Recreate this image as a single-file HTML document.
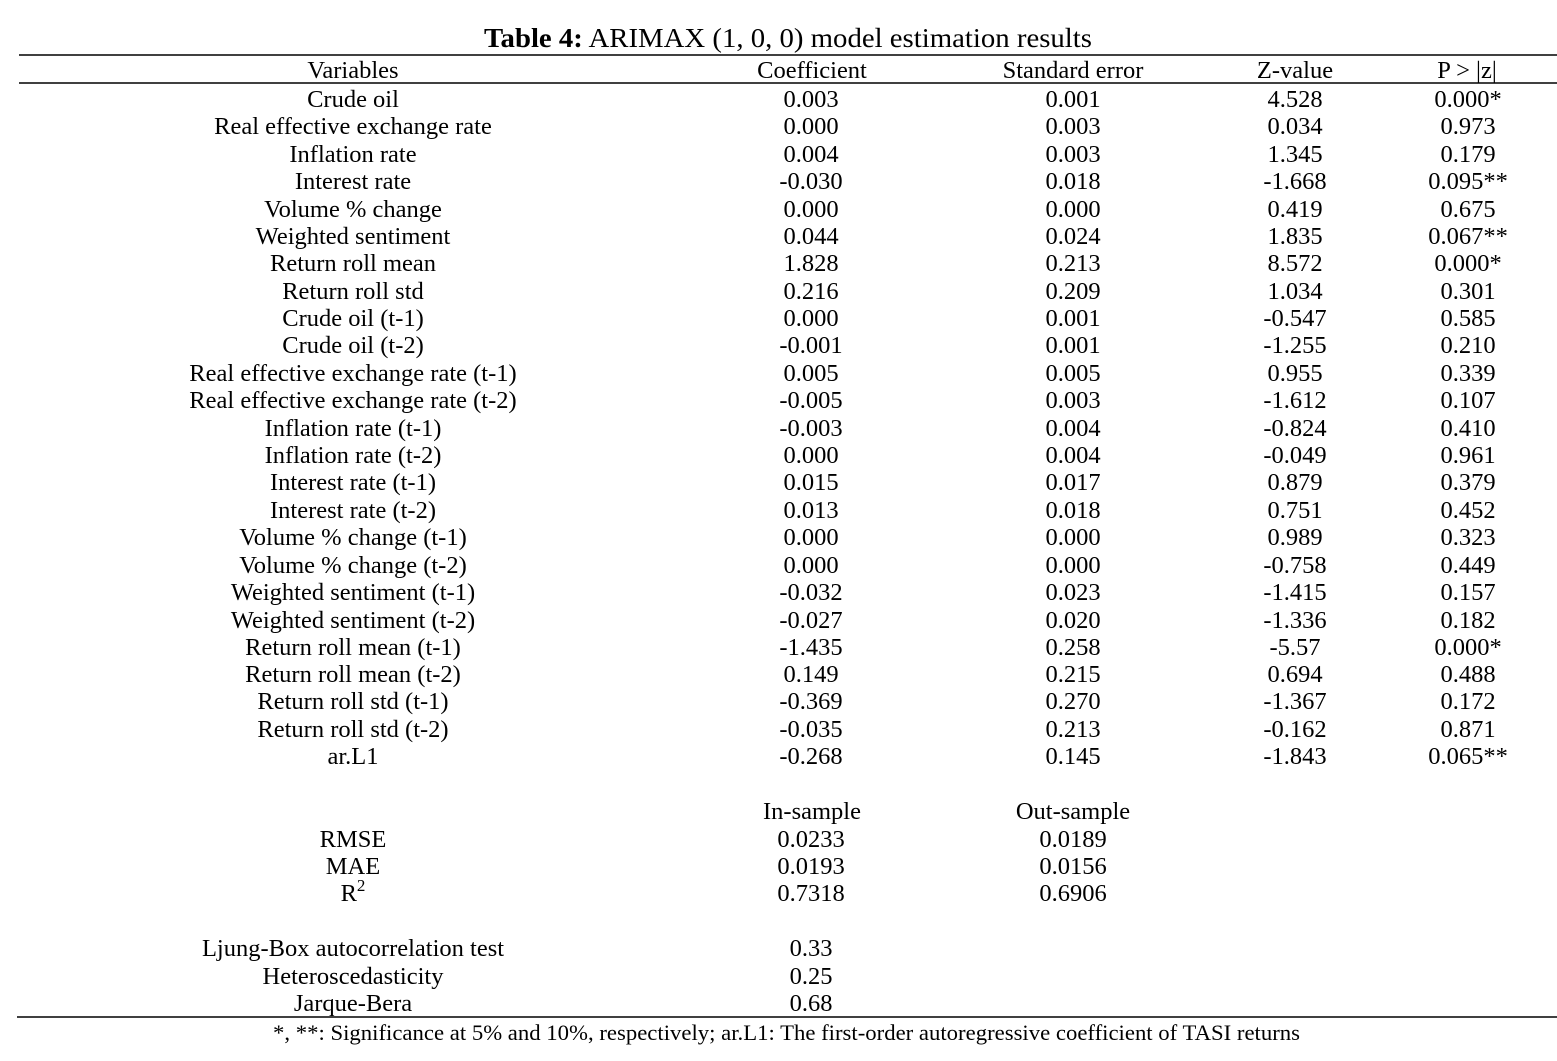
<!DOCTYPE html>
<html>
<head>
<meta charset="utf-8">
<style>
html,body{margin:0;padding:0;background:#fff;}
svg{display:block;}
text{font-family:"Liberation Serif",serif;font-size:24.5px;fill:#000;}
</style>
</head>
<body>
<svg width="1557" height="1061" viewBox="0 0 1557 1061" xmlns="http://www.w3.org/2000/svg">
<text x="484" y="47" textLength="608" lengthAdjust="spacingAndGlyphs" style="font-size:27px"><tspan font-weight="bold">Table 4:</tspan> ARIMAX (1, 0, 0) model estimation results</text>
<line x1="19" y1="55" x2="1557" y2="55" stroke="#000" stroke-width="1.5"/>
<line x1="19" y1="83" x2="1557" y2="83" stroke="#000" stroke-width="1.5"/>
<line x1="17" y1="1017" x2="1557" y2="1017" stroke="#000" stroke-width="1.5"/>

<g text-anchor="middle">
<text x="353" y="78">Variables</text>
<text x="812" y="78">Coefficient</text>
<text x="1073" y="78">Standard error</text>
<text x="1295" y="78">Z-value</text>
<text x="1467" y="78">P &gt; |z|</text>

<text x="353" y="107">Crude oil</text><text x="811" y="107">0.003</text><text x="1073" y="107">0.001</text><text x="1295" y="107">4.528</text><text x="1468" y="107">0.000*</text>
<text x="353" y="134">Real effective exchange rate</text><text x="811" y="134">0.000</text><text x="1073" y="134">0.003</text><text x="1295" y="134">0.034</text><text x="1468" y="134">0.973</text>
<text x="353" y="162">Inflation rate</text><text x="811" y="162">0.004</text><text x="1073" y="162">0.003</text><text x="1295" y="162">1.345</text><text x="1468" y="162">0.179</text>
<text x="353" y="189">Interest rate</text><text x="811" y="189">-0.030</text><text x="1073" y="189">0.018</text><text x="1295" y="189">-1.668</text><text x="1468" y="189">0.095**</text>
<text x="353" y="217">Volume % change</text><text x="811" y="217">0.000</text><text x="1073" y="217">0.000</text><text x="1295" y="217">0.419</text><text x="1468" y="217">0.675</text>
<text x="353" y="244">Weighted sentiment</text><text x="811" y="244">0.044</text><text x="1073" y="244">0.024</text><text x="1295" y="244">1.835</text><text x="1468" y="244">0.067**</text>
<text x="353" y="271">Return roll mean</text><text x="811" y="271">1.828</text><text x="1073" y="271">0.213</text><text x="1295" y="271">8.572</text><text x="1468" y="271">0.000*</text>
<text x="353" y="299">Return roll std</text><text x="811" y="299">0.216</text><text x="1073" y="299">0.209</text><text x="1295" y="299">1.034</text><text x="1468" y="299">0.301</text>
<text x="353" y="326">Crude oil (t-1)</text><text x="811" y="326">0.000</text><text x="1073" y="326">0.001</text><text x="1295" y="326">-0.547</text><text x="1468" y="326">0.585</text>
<text x="353" y="353">Crude oil (t-2)</text><text x="811" y="353">-0.001</text><text x="1073" y="353">0.001</text><text x="1295" y="353">-1.255</text><text x="1468" y="353">0.210</text>
<text x="353" y="381">Real effective exchange rate (t-1)</text><text x="811" y="381">0.005</text><text x="1073" y="381">0.005</text><text x="1295" y="381">0.955</text><text x="1468" y="381">0.339</text>
<text x="353" y="408">Real effective exchange rate (t-2)</text><text x="811" y="408">-0.005</text><text x="1073" y="408">0.003</text><text x="1295" y="408">-1.612</text><text x="1468" y="408">0.107</text>
<text x="353" y="436">Inflation rate (t-1)</text><text x="811" y="436">-0.003</text><text x="1073" y="436">0.004</text><text x="1295" y="436">-0.824</text><text x="1468" y="436">0.410</text>
<text x="353" y="463">Inflation rate (t-2)</text><text x="811" y="463">0.000</text><text x="1073" y="463">0.004</text><text x="1295" y="463">-0.049</text><text x="1468" y="463">0.961</text>
<text x="353" y="490">Interest rate (t-1)</text><text x="811" y="490">0.015</text><text x="1073" y="490">0.017</text><text x="1295" y="490">0.879</text><text x="1468" y="490">0.379</text>
<text x="353" y="518">Interest rate (t-2)</text><text x="811" y="518">0.013</text><text x="1073" y="518">0.018</text><text x="1295" y="518">0.751</text><text x="1468" y="518">0.452</text>
<text x="353" y="545">Volume % change (t-1)</text><text x="811" y="545">0.000</text><text x="1073" y="545">0.000</text><text x="1295" y="545">0.989</text><text x="1468" y="545">0.323</text>
<text x="353" y="573">Volume % change (t-2)</text><text x="811" y="573">0.000</text><text x="1073" y="573">0.000</text><text x="1295" y="573">-0.758</text><text x="1468" y="573">0.449</text>
<text x="353" y="600">Weighted sentiment (t-1)</text><text x="811" y="600">-0.032</text><text x="1073" y="600">0.023</text><text x="1295" y="600">-1.415</text><text x="1468" y="600">0.157</text>
<text x="353" y="628">Weighted sentiment (t-2)</text><text x="811" y="628">-0.027</text><text x="1073" y="628">0.020</text><text x="1295" y="628">-1.336</text><text x="1468" y="628">0.182</text>
<text x="353" y="655">Return roll mean (t-1)</text><text x="811" y="655">-1.435</text><text x="1073" y="655">0.258</text><text x="1295" y="655">-5.57</text><text x="1468" y="655">0.000*</text>
<text x="353" y="682">Return roll mean (t-2)</text><text x="811" y="682">0.149</text><text x="1073" y="682">0.215</text><text x="1295" y="682">0.694</text><text x="1468" y="682">0.488</text>
<text x="353" y="709">Return roll std (t-1)</text><text x="811" y="709">-0.369</text><text x="1073" y="709">0.270</text><text x="1295" y="709">-1.367</text><text x="1468" y="709">0.172</text>
<text x="353" y="737">Return roll std (t-2)</text><text x="811" y="737">-0.035</text><text x="1073" y="737">0.213</text><text x="1295" y="737">-0.162</text><text x="1468" y="737">0.871</text>
<text x="353" y="764">ar.L1</text><text x="811" y="764">-0.268</text><text x="1073" y="764">0.145</text><text x="1295" y="764">-1.843</text><text x="1468" y="764">0.065**</text>

<text x="812" y="819">In-sample</text><text x="1073" y="819">Out-sample</text>
<text x="353" y="847">RMSE</text><text x="811" y="847">0.0233</text><text x="1073" y="847">0.0189</text>
<text x="353" y="874">MAE</text><text x="811" y="874">0.0193</text><text x="1073" y="874">0.0156</text>
<text x="353" y="901">R<tspan dy="-10" style="font-size:17px">2</tspan></text><text x="811" y="901">0.7318</text><text x="1073" y="901">0.6906</text>

<text x="353" y="956">Ljung-Box autocorrelation test</text><text x="811" y="956">0.33</text>
<text x="353" y="984">Heteroscedasticity</text><text x="811" y="984">0.25</text>
<text x="353" y="1011">Jarque-Bera</text><text x="811" y="1011">0.68</text>
</g>
<text x="273" y="1040" textLength="1027" lengthAdjust="spacingAndGlyphs" style="font-size:22px">*, **: Significance at 5% and 10%, respectively; ar.L1: The first-order autoregressive coefficient of TASI returns</text>
</svg>
</body>
</html>
